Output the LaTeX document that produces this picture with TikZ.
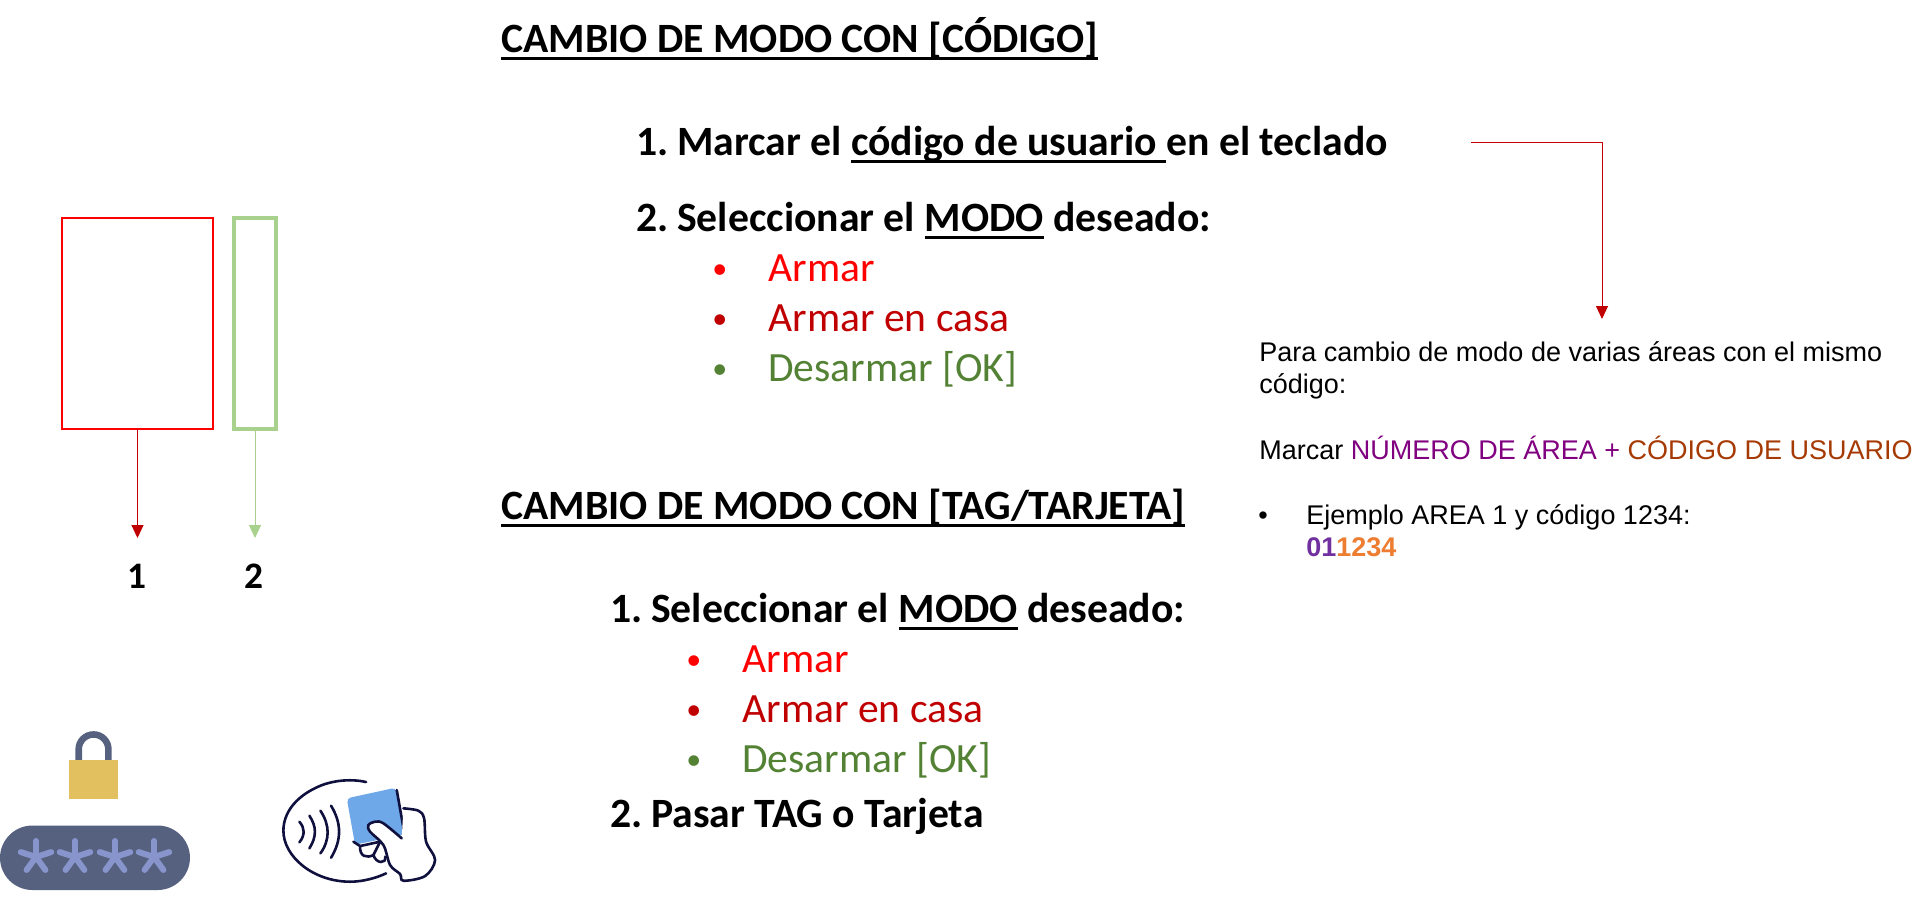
\documentclass[tikz,border=0pt]{standalone}
\usepackage{fontspec}
\setmainfont{Carlito}
\newfontfamily\arialfont{Liberation Sans}
\usetikzlibrary{arrows.meta,positioning}
\definecolor{armred}{HTML}{FF0000}
\definecolor{homered}{HTML}{C00000}
\definecolor{okgreen}{HTML}{548235}
\definecolor{zonegreen}{HTML}{A9D18E}
\definecolor{areapurple}{HTML}{800080}
\definecolor{userbrown}{HTML}{A63A05}
\definecolor{digitpurple}{HTML}{7030A0}
\definecolor{digitorange}{HTML}{ED7D31}
\definecolor{lockslate}{HTML}{56607F}
\definecolor{lockgold}{HTML}{E3C05F}
\definecolor{starblue}{HTML}{8795CC}
\definecolor{cardblue}{HTML}{6FA8E8}
\definecolor{handnavy}{HTML}{10103F}
\newcommand{\headul}[1]{\vtop{\hbox{\smash{#1}}\kern2.6pt\hrule height 1.2pt}}
\newcommand{\modedot}{\makebox[28pt][l]{\raisebox{1.3pt}{\fontsize{15}{15}\selectfont\textbullet}}}

\begin{document}
\begin{tikzpicture}[
  x=0.5pt, y=-0.5pt,
  heading/.style={anchor=base west, inner sep=0pt, font=\fontsize{20.85}{25}\selectfont\bfseries},
  stepline/.style={anchor=base west, inner sep=0pt, font=\fontsize{20.85}{25}\selectfont\bfseries},
  modeitem/.style={anchor=base west, inner sep=0pt, font=\fontsize{20.8}{25}\selectfont},
  note/.style={anchor=base west, inner sep=0pt, align=left, font=\fontsize{13.5}{16}\selectfont\arialfont},
  zone/.style={draw, inner sep=0pt, outer sep=0pt, minimum height=105.5pt},
  zonelabel/.style={font=\fontsize{18.7}{22}\selectfont\bfseries, inner sep=0pt},
  redarrow/.style={-{Triangle[width=6pt,length=6.5pt]}, homered, line width=0.5pt},
  greenarrow/.style={-{Triangle[width=6pt,length=6.5pt]}, zonegreen, line width=0.5pt}
]
\useasboundingbox (0,0) rectangle (1929,911);

% zones on the left
\node[zone, armred, line width=0.85pt, minimum width=75.5pt, anchor=north west] (zoneone) at (62,218) {};
\node[zone, zonegreen, line width=2.3pt, minimum width=21pt, right=10.5pt of zoneone] (zonetwo) {};
\coordinate (tipone) at (zoneone.south |- 0,538);
\coordinate (tiptwo) at (zonetwo.south |- 0,538);
\node[zonelabel] (labelone) at (137,576) {1};
\node[zonelabel] (labeltwo) at (254,576) {2};
\draw[redarrow] (zoneone.south) -- (tipone);
\draw[greenarrow] (zonetwo.south) -- (tiptwo);

% code section
\node[heading] (headcode) at (501,52) {\headul{CAMBIO DE MODO CON [CÓDIGO]}};
\node[stepline] (stepcode) at (636,155) {1.\kern-0.4pt\ Marcar el \headul{código de usuario }en el teclado};
\node[stepline] (stepmode) at (636,231) {2.\kern-0.4pt\ Seleccionar el \headul{MODO} deseado:};
\node[modeitem, armred] (arm) at (712,281) {\modedot Armar};
\node[modeitem, homered] (armhome) at (712,331) {\modedot Armar en casa};
\node[modeitem, okgreen] (disarm) at (712,381) {\modedot Desarmar [OK]};

% tag section
\node[heading] (headtag) at (501,519) {\headul{CAMBIO DE MODO CON [TAG/TARJETA]}};
\node[stepline] (steptag) at (610,622) {1.\kern-0.4pt\ Seleccionar el \headul{MODO} deseado:};
\node[modeitem, armred] (tagarm) at (686,672) {\modedot Armar};
\node[modeitem, homered] (tagarmhome) at (686,722) {\modedot Armar en casa};
\node[modeitem, okgreen] (tagdisarm) at (686,772) {\modedot Desarmar [OK]};
\node[stepline] (steppass) at (610,827) {2.\kern-0.4pt\ Pasar TAG o Tarjeta};

% note on the right
\node[note] (notetext) at (1259,393) {Para cambio de modo de varias áreas con el mismo\\código:};
\node[note] (notedial) at (1259,459) {Marcar \textcolor{areapurple}{NÚMERO DE ÁREA +} \textcolor{userbrown}{CÓDIGO DE USUARIO}};
\node[note] (noteitem) at (1258,556) {\makebox[24pt][l]{\textbullet}Ejemplo AREA 1 y código 1234:\\
  \makebox[24pt][l]{}\textbf{\textcolor{digitpurple}{01}\textcolor{digitorange}{1234}}};
\coordinate (notestart) at (1471,142);
\coordinate (noteend) at (1602,319);
\draw[redarrow] (notestart) -| (noteend);

% padlock and code field
\draw[lockslate, line width=3.3pt] (78.7,762) -- (78.7,749.3) arc (180:360:14.85) -- (108.4,762);
\fill[lockgold] (69,760) rectangle (118,799);
\fill[lockslate, rounded corners=16.2pt] (0,825.5) rectangle (190,890);
\foreach \starx in {36,75,115,154} {
  \foreach \a in {90,162,234,306,378} {
    \draw[starblue, line width=3pt, line cap=round] (\starx,857) -- ++({16*cos(\a)},{-16*sin(\a)});
  }
}

% card over the reader
\begin{scope}[shift={(0,710)}, x=0.1667pt, y=-0.1667pt, handnavy, line width=1.3pt, line cap=round]
\draw (1098,216) .. controls (1060,207) and (1000,208) .. (950,232)
  .. controls (885,262) and (850,310) .. (850,362)
  .. controls (850,440) and (940,515) .. (1050,515)
  .. controls (1090,515) and (1130,503) .. (1158,490);
\draw (898,335) .. controls (915,355) and (915,375) .. (898,397);
\draw (928,317) .. controls (950,350) and (950,380) .. (928,415);
\draw (961,302) .. controls (990,345) and (990,390) .. (961,430);
\draw (993,287) .. controls (1025,340) and (1025,390) .. (993,443);
\fill[cardblue, rounded corners=2pt] (1040,265) -- (1187,233) -- (1217,372) -- (1065,404) -- cycle;
\draw (1190,240) -- (1213,370);
\draw (1225,350) .. controls (1220,365) and (1215,375) .. (1210,380) -- (1242,387);
\draw (1060,395) -- (1080,408) -- (1140,395);
\draw (1080,408) .. controls (1078,440) and (1100,445) .. (1120,435)
  .. controls (1128,462) and (1160,462) .. (1155,440);
\draw (1140,395) -- (1120,435);
\path[draw, fill=white] plot[smooth, tension=0.55] coordinates {(1210,295) (1255,302) (1272,325) (1278,395) (1305,450) (1275,498) (1210,512) (1200,492) (1170,465) (1150,405) (1110,365) (1105,345) (1125,335) (1150,340) (1205,385)};
\end{scope}
\end{tikzpicture}
\end{document}
